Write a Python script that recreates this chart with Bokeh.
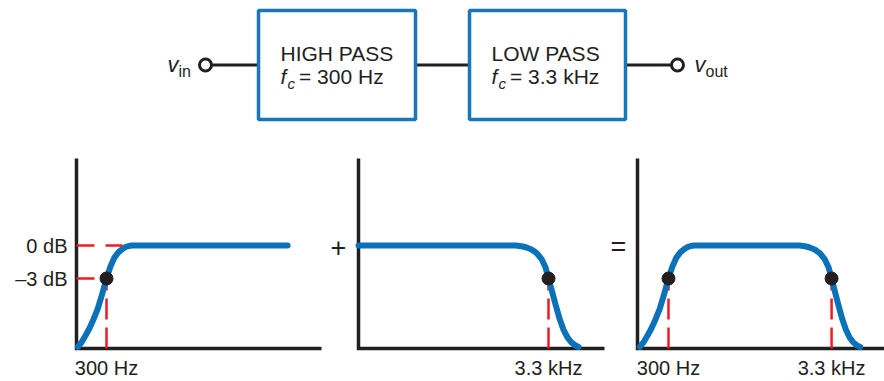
import numpy as np
from bokeh.plotting import figure
from bokeh.models import Range1d
from bokeh.core.properties import value
from bokeh.embed import file_html
from bokeh.resources import INLINE

# ---------------- data ----------------
# high-pass response (Hz, dB)
hp_hz = [197, 208, 220, 234, 248, 263, 279, 300, 318, 337, 358, 380, 402, 433, 473, 4300]
hp_db = [-9.2, -8.8, -8.2, -7.5, -6.7, -5.8, -4.6, -3.0, -1.9, -1.1, -0.6, -0.3, -0.1, 0.0, 0.0, 0.0]
# low-pass response (Hz, dB)
lp_hz = [202, 1750, 2030, 2220, 2390, 2570, 2770, 2980, 3160, 3300, 3450, 3660, 3880, 4110, 4360, 4630, 4910, 5130]
lp_db = [0.0, 0.0, 0.0, -0.07, -0.18, -0.36, -0.68, -1.23, -2.0, -3.0, -4.0, -5.36, -6.64, -7.64, -8.36, -8.82, -9.09, -9.23]
# band-pass response (Hz, dB)
bp_hz = [197, 208, 220, 234, 248, 263, 279, 300, 318, 337, 358, 380, 402, 433, 473,
         1800, 2060, 2230, 2390, 2570, 2770, 2980, 3160, 3300, 3440, 3640, 3850, 4070, 4300, 4550, 4800, 5020]
bp_db = [-9.2, -8.8, -8.2, -7.5, -6.7, -5.8, -4.6, -3.0, -1.9, -1.1, -0.6, -0.3, -0.1, 0.0, 0.0,
         0.0, 0.0, -0.07, -0.18, -0.36, -0.68, -1.23, -2.0, -3.0, -4.0, -5.36, -6.64, -7.64, -8.36, -8.82, -9.09, -9.23]
cutoff_low_hz = 300
cutoff_high_hz = 3300
cutoff_db = -3.0
pass_db = 0.0
db_labels = ["0 dB", "\u20133 dB"]
db_label_values = [0.0, -3.0]
freq_labels = {300: "300 Hz", 3300: "3.3 kHz"}
block_titles = ["HIGH PASS", "LOW PASS"]
block_fc = ["= 300 Hz", "= 3.3 kHz"]
operators = ["+", "="]

# ---------------- layout / style ----------------
W, H = 884, 381
DARK = "#231f20"
BLUE = "#0b71b9"
BOXBLUE = "#1a75bb"
RED = "#ed1c24"
FONT = value("Liberation Sans")

PX_PER_DEC = 156.6
PX_PER_DB = 11.0
Y_0DB = 245.0          # page y of 0 dB
AXIS_Y = 348.0         # page y of x axes
AXIS_TOP = 158.0
# (origin px, reference frequency, px of reference frequency, axis right end)
PANELS = [(76, 300, 106, 321), (358, 3300, 548, 604), (637, 300, 668, 884)]

p = figure(width=W, height=H, x_range=Range1d(0, W), y_range=Range1d(H, 0),
           output_backend="svg", toolbar_location=None, min_border=0,
           x_axis_type=None, y_axis_type=None)
p.grid.visible = False
p.outline_line_color = None
p.background_fill_color = "white"
p.border_fill_color = "white"

p.extra_y_ranges = {"db": Range1d(start=-(H - Y_0DB) / PX_PER_DB, end=Y_0DB / PX_PER_DB)}
xr = {}
for i, (ox, fref, xref, _) in enumerate(PANELS):
    f0log = np.log10(fref) - (xref - ox) / PX_PER_DEC
    xr[f"p{i}"] = Range1d(start=f0log - ox / PX_PER_DEC, end=f0log + (W - ox) / PX_PER_DEC)
p.extra_x_ranges = xr
origin_log = [np.log10(fr) - (xf - ox) / PX_PER_DEC for (ox, fr, xf, _) in PANELS]
axis_db = -(AXIS_Y - Y_0DB) / PX_PER_DB


def txt(x, y, s, size, italic=False, align="left", **kw):
    p.text(x=x, y=y, text=s, text_font=FONT, text_font_size=f"{size}px",
           text_font_style="italic" if italic else "normal", text_color=DARK,
           text_baseline="middle", text_align=align, **kw)


# ---------------- block diagram ----------------
BY = 64.5
boxes = [(258, 415), (469, 625)]
p.multi_line(xs=[[205, 258], [415, 469], [625, 677]], ys=[[BY, BY]] * 3, line_color=DARK, line_width=3)
for (l, r) in boxes:
    p.quad(left=l, right=r, top=10, bottom=119, fill_color="white", line_color=BOXBLUE, line_width=3.5)
p.scatter(x=[205, 677], y=[BY, BY], marker="circle", size=12, fill_color="white",
          line_color=DARK, line_width=3)

for (l, r), title, fc in zip(boxes, block_titles, block_fc):
    tx = l + 22
    txt([tx], [52.5], [title], 21)
    txt([tx], [76], ["f"], 21, italic=True)
    txt([tx + 7], [82.5], ["c"], 15, italic=True)
    txt([tx + 18.5], [76], [fc], 21)

txt([167], [64], ["v"], 22, italic=True)
txt([178], [70.5], ["in"], 16)
txt([694], [64], ["v"], 22, italic=True)
txt([705], [70.5], ["out"], 16)

# ---------------- panel axes ----------------
for (ox, _, _, xend) in PANELS:
    p.line(x=[ox, ox, xend], y=[AXIS_TOP, AXIS_Y, AXIS_Y], line_color=DARK, line_width=3.5,
           line_join="miter")

# operators between panels
txt([338, 618], [247, 246], operators, 27, align="center")

# ---------------- reference (red dashed) lines ----------------
DASH = "21 8"
# panel 1 horizontals
p.segment(x0=[origin_log[0]] * 2, y0=[pass_db, cutoff_db],
          x1=[np.log10(380), np.log10(cutoff_low_hz)], y1=[pass_db, cutoff_db],
          x_range_name="p0", y_range_name="db", line_color=RED, line_width=2.5, line_dash="18 11")
verts = [("p0", cutoff_low_hz), ("p1", cutoff_high_hz), ("p2", cutoff_low_hz), ("p2", cutoff_high_hz)]
for rn, f in verts:
    p.segment(x0=[np.log10(f)], y0=[axis_db], x1=[np.log10(f)], y1=[cutoff_db],
              x_range_name=rn, y_range_name="db", line_color=RED, line_width=2.5, line_dash=DASH)

# ---------------- response curves ----------------
for rn, fx, dbv in [("p0", hp_hz, hp_db), ("p1", lp_hz, lp_db), ("p2", bp_hz, bp_db)]:
    p.line(x=np.log10(fx), y=dbv, x_range_name=rn, y_range_name="db",
           line_color=BLUE, line_width=6, line_cap="round", line_join="round")

for rn, f in verts:
    p.scatter(x=[np.log10(f)], y=[cutoff_db], x_range_name=rn, y_range_name="db",
              marker="circle", size=13, fill_color=DARK, line_color=DARK)

# ---------------- labels ----------------
txt([origin_log[0]] * 2, db_label_values, db_labels, 20, align="right",
    x_range_name="p0", y_range_name="db", x_offset=-9)
for rn, f in verts:
    txt([np.log10(f)], [367.5], [freq_labels[f]], 20, align="center", x_range_name=rn)

open("out.html", "w").write(file_html(p, INLINE))
